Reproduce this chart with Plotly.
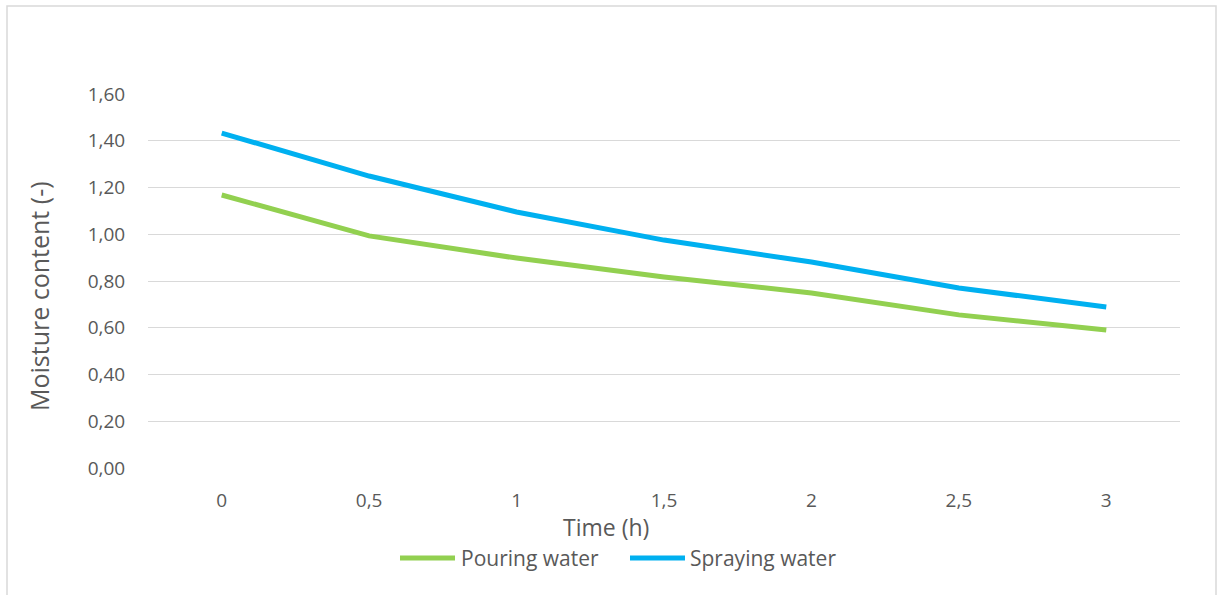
import plotly.graph_objects as go

time_labels = ["0", "0,5", "1", "1,5", "2", "2,5", "3"]
pouring = [1.168, 0.993, 0.898, 0.817, 0.749, 0.655, 0.590]
spraying = [1.433, 1.249, 1.095, 0.975, 0.881, 0.770, 0.689]
y_ticks = [0, 0.2, 0.4, 0.6, 0.8, 1.0, 1.2, 1.4, 1.6]
y_tick_text = ["0,00", "0,20", "0,40", "0,60", "0,80", "1,00", "1,20", "1,40", "1,60"]
series_names = ["Pouring water", "Spraying water"]
series_colors = ["#92d050", "#00b0f0"]

font_family = "Open Sans, Liberation Sans, sans-serif"
text_color = "#595959"

fig = go.Figure()
for name, vals, col in zip(series_names, [pouring, spraying], series_colors):
    fig.add_trace(go.Scatter(x=time_labels, y=vals, mode="lines", name=name,
                             line=dict(color=col, width=5), showlegend=False))

W, H = 1217, 595
L, R, T, B = 148, 37, 94, 127
pw, ph = W - L - R, H - T - B

def px(x):
    return (x - L) / pw

def py(y):
    return (H - B - y) / ph

# custom legend (key line + label)
legend_y = 558
legend_keys = [(400, 455, 459), (630, 685, 688)]
shapes = [dict(type="rect", xref="paper", yref="paper",
               x0=px(7), x1=px(1216), y0=py(605), y1=py(6),
               line=dict(color="#d9d9d9", width=1.5), fillcolor="rgba(0,0,0,0)", layer="below")]
annotations = [
    dict(text="Time (h)", xref="paper", yref="paper", x=px(606), y=py(527),
         xanchor="center", yanchor="middle", showarrow=False,
         font=dict(size=23, color=text_color)),
    dict(text="Moisture content (-)", xref="paper", yref="paper", x=px(39), y=py(296),
         xanchor="center", yanchor="middle", showarrow=False, textangle=-90,
         font=dict(size=25, color=text_color)),
]
for (x0, x1, xt), name, col in zip(legend_keys, series_names, series_colors):
    shapes.append(dict(type="line", xref="paper", yref="paper",
                       x0=px(x0), x1=px(x1), y0=py(legend_y), y1=py(legend_y),
                       line=dict(color=col, width=5)))
    annotations.append(dict(text=name, xref="paper", yref="paper", x=px(xt), y=py(legend_y),
                            xanchor="left", yanchor="middle", showarrow=False,
                            font=dict(size=21, color=text_color)))

fig.update_layout(
    width=W, height=H,
    margin=dict(l=L, r=R, t=T, b=B),
    paper_bgcolor="white", plot_bgcolor="white",
    font=dict(family=font_family, color=text_color, size=19),
    showlegend=False,
    xaxis=dict(type="category", range=[-0.5, 6.5], showgrid=False, zeroline=False,
               showline=False, ticks="outside", ticklen=15, tickcolor="rgba(0,0,0,0)",
               tickfont=dict(size=19, color=text_color)),
    yaxis=dict(range=[0, 1.6], tickvals=y_ticks, ticktext=y_tick_text,
               showgrid=True, gridcolor="#d9d9d9", gridwidth=1.3, zeroline=False,
               showline=False, ticks="outside", ticklen=18, tickcolor="rgba(0,0,0,0)",
               tickfont=dict(size=19, color=text_color)),
    annotations=annotations,
    shapes=shapes,
)

fig.write_html("out.html")
